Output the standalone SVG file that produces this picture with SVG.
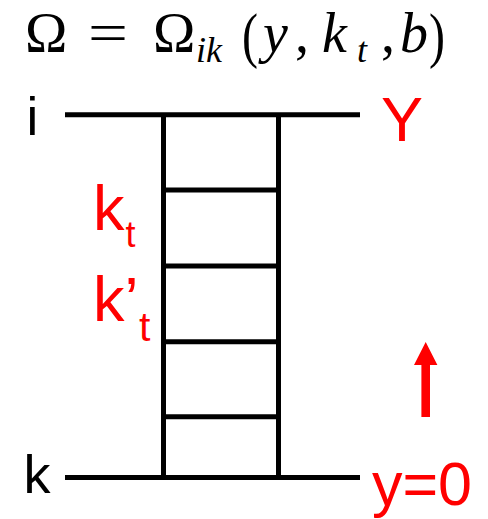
<svg xmlns="http://www.w3.org/2000/svg" width="488" height="519" viewBox="0 0 488 519">
<style>
.ln{stroke:#000;stroke-width:5;fill:none}
.s{font-family:"Liberation Sans",Arial,sans-serif}
.red{fill:#ff0000}
.blk{fill:#000}
.m{font-family:"Liberation Serif","Times New Roman",serif;fill:#000}
.it{font-style:italic}
</style>
<rect width="488" height="519" fill="#fff"/>
<g id="formula">
<text class="m" font-size="57" x="25" y="52">Ω</text>
<text class="m" font-size="57" x="88" y="52" textLength="40" lengthAdjust="spacingAndGlyphs">=</text>
<text class="m" font-size="57" x="153" y="52">Ω</text>
<text class="m it" font-size="36" x="196" y="62">ik</text>
<text class="m" font-size="61" x="242" y="55.5" textLength="16" lengthAdjust="spacingAndGlyphs">(</text>
<text class="m it" font-size="56" x="263" y="52">y</text>
<text class="m" font-size="56" x="295" y="52">,</text>
<text class="m it" font-size="56" x="322" y="52">k</text>
<text class="m it" font-size="36" x="357" y="62">t</text>
<text class="m" font-size="56" x="381" y="52">,</text>
<text class="m it" font-size="56" x="400" y="52">b</text>
<text class="m" font-size="61" x="429" y="55.5" textLength="16" lengthAdjust="spacingAndGlyphs">)</text>
</g>
<g id="connectors">
<line class="ln" x1="65" y1="114.7" x2="360" y2="114.7"/>
<line class="ln" x1="65" y1="477.5" x2="360" y2="477.5"/>
<line class="ln" x1="163.5" y1="114.7" x2="163.5" y2="477.5"/>
<line class="ln" x1="278.5" y1="114.7" x2="278.5" y2="477.5"/>
<line class="ln" x1="163.5" y1="190" x2="278.5" y2="190"/>
<line class="ln" x1="163.5" y1="266" x2="278.5" y2="266"/>
<line class="ln" x1="163.5" y1="341.8" x2="278.5" y2="341.8"/>
<line class="ln" x1="163.5" y1="416.8" x2="278.5" y2="416.8"/>
</g>
<g id="arrow">
<polygon class="red" points="425.7,342 437.4,365 430,365 430,417 421.4,417 421.4,365 414,365"/>
</g>
<g id="label-i"><text class="s blk" font-size="53" x="26.5" y="135">i</text></g>
<g id="label-Y"><text class="s red" font-size="63" x="381" y="141">Y</text></g>
<g id="label-k"><text class="s blk" font-size="54" x="23.5" y="493">k</text></g>
<g id="label-y0"><text class="s red" font-size="61" x="372" y="505">y=0</text></g>
<g id="label-kt"><text class="s red" font-size="63" x="93" y="230">k</text><text class="s red" font-size="36" x="125.5" y="247">t</text></g>
<g id="label-kpt"><text class="s red" font-size="63" x="93" y="321">k’</text><text class="s red" font-size="41" x="139" y="341">t</text></g>
</svg>
